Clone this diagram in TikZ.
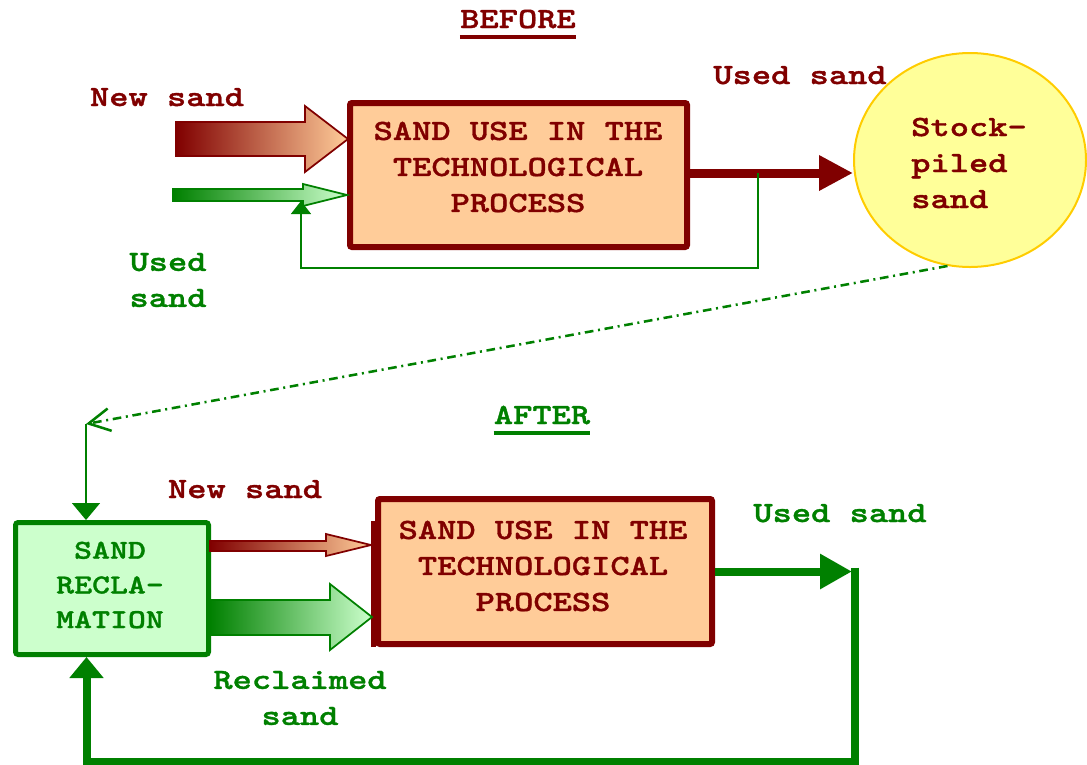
\documentclass[tikz,border=0pt]{standalone}
\usepackage{fontspec}
\newfontfamily\cour{lmmonolt10-bold.otf}[FakeStretch=1.25,FakeBold=1.2]
\usetikzlibrary{arrows.meta,shapes.geometric,calc}
\definecolor{dred}{HTML}{800000}
\definecolor{peach}{HTML}{FFCC99}
\definecolor{dgreen}{HTML}{008000}
\definecolor{lgreen}{HTML}{CCFFCC}
\definecolor{yfill}{HTML}{FFFF99}
\definecolor{gold}{HTML}{FFCC00}
\begin{document}
\begin{tikzpicture}[x=0.75pt,y=-0.75pt,
  txt/.style={font=\cour\fontsize{22}{27}\selectfont, inner sep=0pt, align=center},
  stxt/.style={font=\cour\fontsize{20.5}{26}\selectfont, inner sep=0pt, align=center},
  procbox/.style={draw=dred, fill=peach, line width=4.5pt, rounded corners=1.5pt, inner sep=0pt},
  reclbox/.style={draw=dgreen, fill=lgreen, line width=3.75pt, rounded corners=2pt, inner sep=0pt,
     minimum width=144.75pt, minimum height=99pt},
  stockell/.style={ellipse, draw=gold, fill=yfill, line width=1.5pt, inner sep=0pt,
     minimum width=174pt, minimum height=160.5pt},
  redfat/.style={left color=dred, right color=peach, draw=dred, line width=1.3pt, line join=miter},
  greenfat/.style={left color=dgreen, right color=lgreen, draw=dgreen, line width=1.3pt, line join=miter},
  thinfeed/.style={draw=dgreen, line width=1.1pt},
  uline/.style={line width=3pt}
]
\useasboundingbox (0,0) rectangle (1087,764);

% ---------- BEFORE ----------
\node[txt, text=dred, anchor=base] (tb) at (518,28) {BEFORE};
\draw[dred, uline] ([yshift=-6.75pt]tb.base west) -- ([yshift=-6.75pt]tb.base east);

\node[procbox, minimum width=252.75pt, minimum height=108pt] (box1) at (518.5,175) {};
\node[txt, text=dred] (t1) at (518,167) {SAND USE IN THE\\TECHNOLOGICAL\\PROCESS};

\node[stockell] (ell) at (970,160) {};
\node[txt, text=dred, align=left, anchor=west] (st) at (911,163) {Stock-\\piled\\sand};

\node[txt, text=dred, anchor=base] (ns1) at (167,106) {New sand};
\node[txt, text=dred, anchor=base] (us1) at (800,84) {Used sand};
\node[txt, text=dgreen] (us2) at (168,280) {Used\\sand};

% fat input arrows (top)
\coordinate (a1) at ($(box1.west)+(1,-36)$);
\shadedraw[redfat] (a1) -- ++(-43,-33) -- ++(0,16) -- ++(-129,0) -- ++(0,34)
   -- ++(129,0) -- ++(0,16) -- cycle;
\coordinate (a2) at ($(box1.west)+(0,20)$);
\shadedraw[greenfat] (a2) -- ++(-44,-11) -- ++(0,5) -- ++(-130,0) -- ++(0,12)
   -- ++(130,0) -- ++(0,5) -- cycle;
\coordinate (gab) at ($(a2)+(-46,6)$);

% output arrow to stock pile
\coordinate (r0) at ([yshift=1.5pt]box1.east);
\draw[dred, line width=6.75pt, -{Triangle[length=25.5pt,width=25pt]}] (r0) -- (r0 -| ell.west);

% feedback line
\coordinate (fb) at ($(r0)+(68,0)$);
\draw[thinfeed, -{Triangle[length=9.75pt,width=15pt]}] (fb) |- ($(gab)+(0,67)$) -- (gab);

% ---------- AFTER ----------
\node[txt, text=dgreen, anchor=base] (ta) at (542,424) {AFTER};
\draw[dgreen, uline] ([yshift=-6.75pt]ta.base west) -- ([yshift=-6.75pt]ta.base east);

\node[reclbox] (gbox) at (112,588.5) {};
\node[stxt, text=dgreen] (gt) at (110,585) {SAND\\RECLA-\\MATION};

\node[procbox, minimum width=250.5pt, minimum height=108.75pt] (box2) at (545,571.5) {};
\draw[dred, line width=3.5pt] ($(box2.south west)+(-1.5,0)$) -- ($(box2.north west)+(-1.5,25)$);
\node[txt, text=dred] (t2) at (543,566) {SAND USE IN THE\\TECHNOLOGICAL\\PROCESS};

\node[txt, text=dred, anchor=base] (ns2) at (245,498) {New sand};
\node[txt, text=dgreen, anchor=base] (us3) at (840,522) {Used sand};
\node[txt, text=dgreen] (rs) at (300,698) {Reclaimed\\sand};

% fat arrows (bottom)
\coordinate (b1) at ($(box2.west)+(-4,-26.5)$);
\shadedraw[redfat] (b1) -- ++(-45,-11) -- ++(0,7) -- ++(-116,0) -- ++(0,10)
   -- ++(116,0) -- ++(0,5) -- cycle;
\coordinate (b2) at ($(box2.west)+(-3,45.5)$);
\shadedraw[greenfat] (b2) -- ++(-42,-33) -- ++(0,16) -- ++(-120,0) -- ++(0,35)
   -- ++(120,0) -- ++(0,15) -- cycle;

% dash-dot link from stock pile to reclamation
\coordinate (c1) at ($(gbox.north)+(-26,-96)$);
\draw[dgreen, line width=1.9pt, dash pattern=on 6.5pt off 3.5pt on 1.5pt off 3.5pt,
      -{Straight Barb[length=16pt,width=17pt]}] (ell.-102) -- (c1);
\draw[thinfeed, -{Triangle[length=12.75pt,width=21pt]}] (c1) -- (c1 |- gbox.north);

% used sand output and return loop
\coordinate (c2) at ($(box2.east)+(137,0)$);
\draw[dgreen, line width=6pt, -{Triangle[length=24pt,width=25pt]}] (box2.east) -- (c2);
\coordinate (c3) at ($(c2)+(3,-4)$);
\coordinate (c4) at ($(gbox.south)+(-25.5,105)$);
\draw[dgreen, line width=6pt, -{Triangle[length=15.75pt,width=24.75pt]}] (c3) |- (c4) -- (c4 |- gbox.south);
\end{tikzpicture}
\end{document}
